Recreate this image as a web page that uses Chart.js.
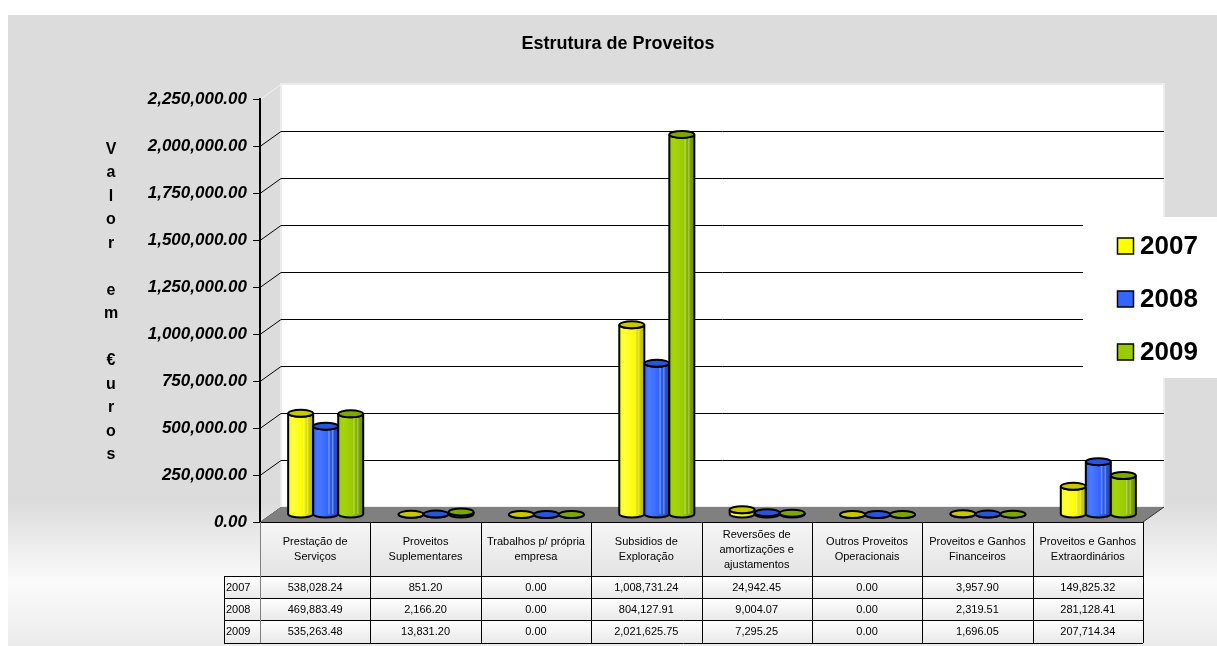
<!DOCTYPE html>
<html>
<head>
<meta charset="utf-8">
<script src="https://cdn.jsdelivr.net/npm/chart.js@4.4.0/dist/chart.umd.min.js"></script>
<style>
    html, body { margin: 0; padding: 0; background: #fff; }
    canvas { display: block; }
</style>
</head>
<body>
<canvas id="proveitos" width="1217" height="646"></canvas>
<script>
const categories = [
    ['Prestação de', 'Serviços'],
    ['Proveitos', 'Suplementares'],
    ['Trabalhos p/ própria', 'empresa'],
    ['Subsidios de', 'Exploração'],
    ['Reversões de', 'amortizações e', 'ajustamentos'],
    ['Outros Proveitos', 'Operacionais'],
    ['Proveitos e Ganhos', 'Financeiros'],
    ['Proveitos e Ganhos', 'Extraordinários'],
];
const years = ['2007', '2008', '2009'];
const values2007 = [538028.24, 851.20, 0.00, 1008731.24, 24942.45, 0.00, 3957.90, 149825.32];
const values2008 = [469883.49, 2166.20, 0.00, 804127.91, 9004.07, 0.00, 2319.51, 281128.41];
const values2009 = [535263.48, 13831.20, 0.00, 2021625.75, 7295.25, 0.00, 1696.05, 207714.34];
const yMin = 0;
const yMax = 2250000;
const yStep = 250000;
const yTitle = ['V', 'a', 'l', 'o', 'r', '', 'e', 'm', '', '€', 'u', 'r', 'o', 's'];
const chartTitle = 'Estrutura de Proveitos';

// styles
const FONT = '"Liberation Sans", Arial, sans-serif';
const seriesColors = [
    { fill: '#ffff00', light: '#ffff40', dark: '#b4b400', top: '#c8c800' },
    { fill: '#3366ff', light: '#4a7aff', dark: '#2244b0', top: '#2a55d8' },
    { fill: '#99cc00', light: '#a6d410', dark: '#6a8c00', top: '#7fa600' },
];
const DX = 21, DY = -15;           // 3D depth of the back wall
const fmt = v => v.toLocaleString('en-US', { minimumFractionDigits: 2, maximumFractionDigits: 2 });

function drawCylinder(ctx, cx, top, base, w, col) {
    const rx = w / 2, ry = 3.5;
    const l = cx - rx, r = cx + rx;
    const g = ctx.createLinearGradient(l, 0, r, 0);
    g.addColorStop(0, col.fill);
    g.addColorStop(0.2, col.light);
    g.addColorStop(0.55, col.fill);
    g.addColorStop(1, col.dark);
    ctx.save();
    ctx.lineWidth = 2;
    ctx.strokeStyle = '#000';
    ctx.beginPath();
    ctx.moveTo(l, top);
    ctx.lineTo(l, base);
    ctx.ellipse(cx, base, rx, ry, 0, Math.PI, 0, true);
    ctx.lineTo(r, top);
    ctx.ellipse(cx, top, rx, ry, 0, 0, Math.PI, false);
    ctx.closePath();
    ctx.fillStyle = g;
    ctx.fill();
    if (base - top > 6) {
        ctx.fillStyle = 'rgba(255,255,255,0.3)';
        ctx.fillRect(l + w * 0.6, top + ry, 1.5, base - top - ry);
        ctx.fillRect(l + w * 0.75, top + ry, 1.5, base - top - ry);
    }
    ctx.stroke();
    ctx.beginPath();
    ctx.ellipse(cx, top, rx, ry, 0, 0, Math.PI * 2);
    ctx.fillStyle = col.top;
    ctx.fill();
    ctx.stroke();
    ctx.restore();
}

const scenePlugin = {
    id: 'scene',
    beforeDraw(chart) {
        const { ctx, chartArea: a, scales: { y } } = chart;
        ctx.save();
        ctx.fillStyle = '#fff';
        ctx.fillRect(0, 0, chart.width, chart.height);
        const bg = ctx.createLinearGradient(0, 15, 0, chart.height);
        bg.addColorStop(0, '#dcdcdc');
        bg.addColorStop(0.77, '#dcdcdc');
        bg.addColorStop(0.9, '#fbfbfb');
        bg.addColorStop(1, '#ebebeb');
        ctx.fillStyle = bg;
        ctx.fillRect(8, 15, chart.width - 8, chart.height - 15);

        // back wall
        ctx.fillStyle = '#fff';
        ctx.fillRect(a.left + DX, a.top + DY, a.right - a.left, a.bottom - a.top);
        ctx.strokeStyle = '#ececec';
        ctx.lineWidth = 2;
        ctx.strokeRect(a.left + DX, a.top + DY, a.right - a.left, a.bottom - a.top);

        // grid lines on the back wall + side diagonals
        ctx.lineWidth = 1;
        y.ticks.forEach(t => {
            const py = Math.round(y.getPixelForValue(t.value)) + 0.5;
            if (t.value >= yMax) {
                ctx.strokeStyle = '#f4f4f4';
            } else {
                ctx.strokeStyle = '#000';
                ctx.beginPath();
                ctx.moveTo(a.left + DX, py + DY);
                ctx.lineTo(a.right + DX, py + DY);
                ctx.stroke();
            }
            ctx.beginPath();
            ctx.moveTo(a.left, py);
            ctx.lineTo(a.left + DX, py + DY);
            ctx.stroke();
        });

        // floor
        ctx.fillStyle = '#808080';
        ctx.beginPath();
        ctx.moveTo(a.left, a.bottom);
        ctx.lineTo(a.right, a.bottom);
        ctx.lineTo(a.right + DX, a.bottom + DY);
        ctx.lineTo(a.left + DX, a.bottom + DY);
        ctx.closePath();
        ctx.fill();
        ctx.strokeStyle = '#333';
        ctx.beginPath();
        ctx.moveTo(a.right, a.bottom);
        ctx.lineTo(a.right + DX, a.bottom + DY);
        ctx.stroke();
        ctx.restore();
    },
    beforeDatasetDraw() {
        return false;
    },
    afterDatasetsDraw(chart) {
        const ctx = chart.ctx;
        const metas = chart.data.datasets.map((d, i) => chart.getDatasetMeta(i));
        for (let j = 0; j < categories.length; j++) {
            metas.forEach((m, i) => {
                const el = m.data[j];
                drawCylinder(ctx, el.x + DX / 2, el.y + DY / 2, el.base + DY / 2, el.width, seriesColors[i]);
            });
        }
    },
    afterDraw(chart) {
        const { ctx, chartArea: a, scales: { x } } = chart;
        const colW = (a.right - a.left) / categories.length;
        const hdrTop = a.bottom, hdrBot = 576;
        const rows = [576, 598, 620, 643];
        const labelLeft = 224;
        ctx.save();

        // header cells
        const hg = ctx.createLinearGradient(0, hdrTop, 0, hdrBot);
        hg.addColorStop(0, '#f6f6f6');
        hg.addColorStop(1, '#e4e4e4');
        ctx.fillStyle = hg;
        ctx.fillRect(a.left, hdrTop, a.right - a.left, hdrBot - hdrTop);
        for (let r = 0; r < 3; r++) {
            const rg = ctx.createLinearGradient(0, rows[r], 0, rows[r + 1]);
            rg.addColorStop(0, '#ffffff');
            rg.addColorStop(1, '#e9e9e9');
            ctx.fillStyle = rg;
            ctx.fillRect(labelLeft, rows[r], a.right - labelLeft, rows[r + 1] - rows[r]);
        }

        ctx.strokeStyle = '#000';
        ctx.lineWidth = 1;
        ctx.beginPath();
        ctx.moveTo(a.left, hdrTop + 0.5);
        ctx.lineTo(a.right, hdrTop + 0.5);
        rows.forEach(ry => {
            ctx.moveTo(labelLeft, ry + 0.5);
            ctx.lineTo(a.right, ry + 0.5);
        });
        ctx.moveTo(labelLeft + 0.5, rows[0]);
        ctx.lineTo(labelLeft + 0.5, rows[3]);
        for (let i = 1; i <= categories.length; i++) {
            const cx = Math.round(x.getPixelForValue(i - 1) + colW / 2) + 0.5;
            ctx.moveTo(cx, hdrTop);
            ctx.lineTo(cx, rows[3]);
        }
        ctx.stroke();
        ctx.strokeStyle = '#808080';
        ctx.beginPath();
        ctx.moveTo(a.left + 0.5, hdrTop);
        ctx.lineTo(a.left + 0.5, rows[3]);
        ctx.stroke();

        ctx.fillStyle = '#000';
        ctx.font = '11px ' + FONT;
        ctx.textAlign = 'center';
        ctx.textBaseline = 'middle';
        const hdrMid = (hdrTop + hdrBot) / 2 + 0.5;
        categories.forEach((lines, i) => {
            const cx = x.getPixelForValue(i);
            lines.forEach((ln, k) => {
                ctx.fillText(ln, cx, hdrMid + (k - (lines.length - 1) / 2) * 15);
            });
        });
        const series = [values2007, values2008, values2009];
        series.forEach((vals, r) => {
            const my = (rows[r] + rows[r + 1]) / 2 + 0.5;
            vals.forEach((v, i) => ctx.fillText(fmt(v), x.getPixelForValue(i), my));
        });
        ctx.textAlign = 'left';
        years.forEach((yr, r) => ctx.fillText(yr, labelLeft + 2, (rows[r] + rows[r + 1]) / 2 + 0.5));

        // legend
        ctx.fillStyle = '#fff';
        ctx.fillRect(1083, 217, chart.width - 1083, 161);
        ctx.font = 'bold 26px ' + FONT;
        ctx.textBaseline = 'middle';
        chart.data.datasets.forEach((d, i) => {
            const cy = 246 + i * 53;
            ctx.fillStyle = seriesColors[i].fill;
            ctx.fillRect(1117.5, cy - 8, 16, 16);
            ctx.strokeStyle = '#000';
            ctx.lineWidth = 1.5;
            ctx.strokeRect(1117.5, cy - 8, 16, 16);
            ctx.fillStyle = '#000';
            ctx.fillText(d.label, 1140, cy + 1);
        });

        // title
        ctx.textAlign = 'center';
        ctx.font = 'bold 18px ' + FONT;
        ctx.fillText(chartTitle, 618, 44);

        // vertical axis title, one letter per line
        ctx.font = 'bold 16px ' + FONT;
        ctx.textBaseline = 'alphabetic';
        yTitle.forEach((ch, i) => ctx.fillText(ch, 111, 153.5 + i * 23.5));
        ctx.restore();
    }
};

new Chart(document.getElementById('proveitos'), {
    type: 'bar',
    data: {
        labels: categories,
        datasets: [
            { label: years[0], data: values2007, backgroundColor: seriesColors[0].fill },
            { label: years[1], data: values2008, backgroundColor: seriesColors[1].fill },
            { label: years[2], data: values2009, backgroundColor: seriesColors[2].fill },
        ]
    },
    options: {
        responsive: false,
        animation: false,
        devicePixelRatio: 1,
        layout: { padding: { top: 99, bottom: 124, left: 0, right: 74 } },
        datasets: { bar: { categoryPercentage: 0.68, barPercentage: 1 } },
        scales: {
            x: {
                ticks: { display: false },
                grid: { display: false },
                border: { display: false },
                afterFit: s => { s.height = 0; }
            },
            y: {
                min: yMin,
                max: yMax,
                ticks: {
                    stepSize: yStep,
                    padding: 6,
                    color: '#000',
                    font: { family: FONT, size: 17, weight: 'bold', style: 'italic' },
                    callback: v => fmt(v)
                },
                grid: { drawOnChartArea: false, drawTicks: true, tickLength: 7, color: '#000', lineWidth: 1 },
                border: { display: true, color: '#000', width: 2 },
                afterFit: s => { s.width = 260; }
            }
        },
        plugins: {
            legend: { display: false },
            title: { display: false },
            tooltip: { enabled: false }
        }
    },
    plugins: [scenePlugin]
});
</script>
</body>
</html>
